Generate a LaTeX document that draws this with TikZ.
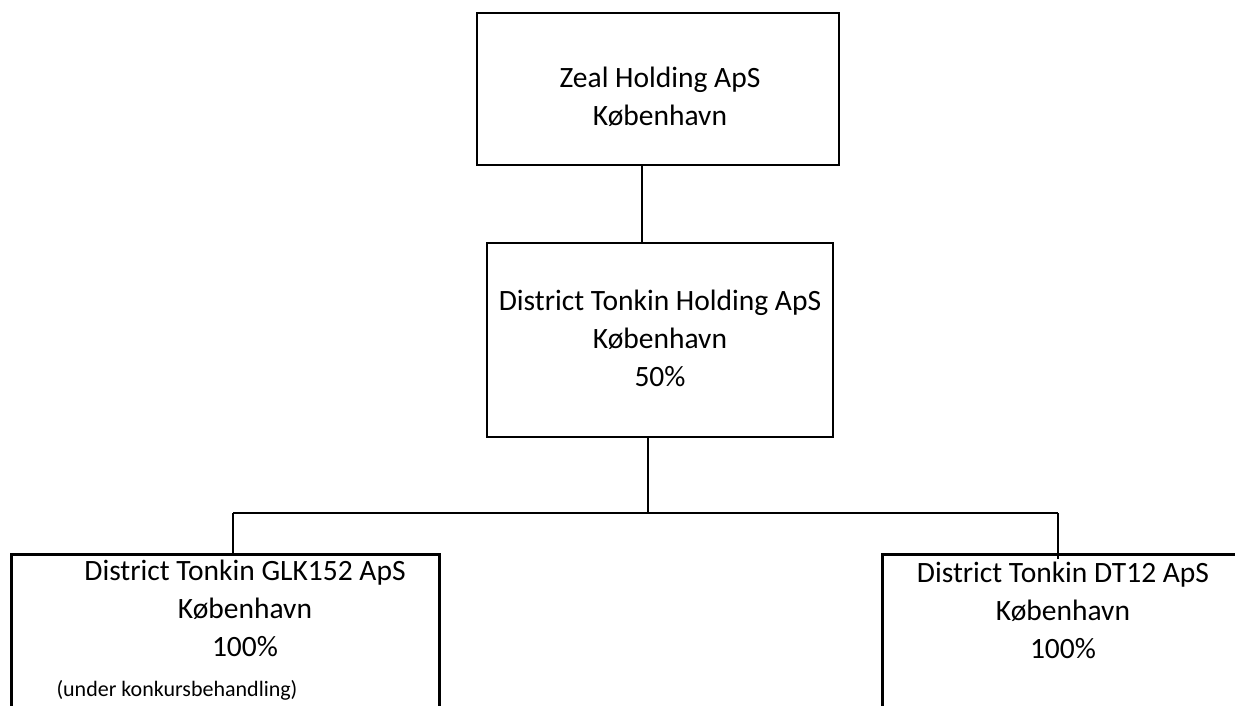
\documentclass[tikz,border=0pt]{standalone}
\usepackage{fontspec}
\setmainfont{Carlito}
\usetikzlibrary{positioning}
\tikzset{orgbox/.style={draw,line width=2.6pt,inner sep=0pt}}
\tikzset{orgtext/.style={align=center,inner sep=0pt,anchor=north,
                         font=\fontsize{29.5}{38}\selectfont}}
\tikzset{link/.style={draw,line width=2.6pt}}
\tikzset{thin link/.style={draw,line width=1.6pt}}

\begin{document}
\begin{tikzpicture}[x=1pt,y=-1pt]
  \clip (0,0) rectangle (1235,705);

  % boxes
  \node [orgbox,minimum width=362pt,minimum height=152pt] (zeal) at (658,89) {};
  \node [orgbox,minimum width=346pt,minimum height=194pt] (tonkin) at (660,340) {};
  \node [orgbox,anchor=north west,minimum width=428pt,minimum height=220pt] (glk) at (10,553) {};
  \node [orgbox,anchor=north west,minimum width=420pt,minimum height=220pt] (dt12) at (881,553) {};

  % texts
  \node [orgtext] (zealtext) at (660,67) {Zeal Holding ApS\\København};
  \node [orgtext] (tonkintext) at (660,290) {District Tonkin Holding ApS\\København\\50\%};
  \node [orgtext] (glktext) at (245,560) {District Tonkin GLK152 ApS\\København\\100\%};
  \node [orgtext,anchor=base,font=\fontsize{22}{26}\selectfont] (glknote) at (177,696)
    {(under konkursbehandling)};
  \node [orgtext] (dt12text) at (1063,562) {District Tonkin DT12 ApS\\København\\100\%};

  % connectors
  \coordinate (zealdrop) at ([xshift=-16pt]zeal.south);
  \draw [link] (zealdrop) -- (zealdrop |- tonkin.north);

  \coordinate (split) at (648,513);
  \coordinate (busleft) at (233,513);
  \coordinate (busright) at (1058,513);
  \draw [link] (split |- tonkin.south) -- (split);
  \draw [thin link] (busleft) -- (busright);
  \draw [link] (busleft) -- (busleft |- glk.north);
  \draw [thin link] (busright) -- ++(0,46);

\end{tikzpicture}
\end{document}
